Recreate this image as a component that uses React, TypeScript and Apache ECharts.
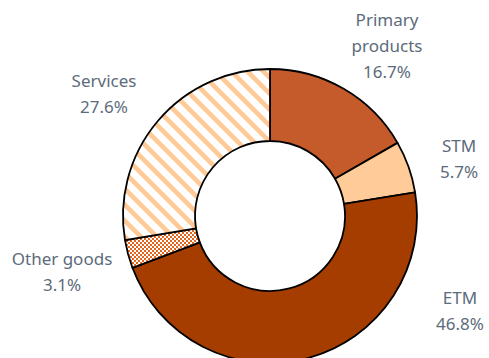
import React, { useEffect, useRef } from "react";
import * as echarts from "echarts";

const categories = ["Primary\nproducts", "STM", "ETM", "Other goods", "Services"];
const shares = [16.7, 5.7, 46.8, 3.1, 27.6];

const labelPos: [number, number][] = [
  [387, 45],
  [459, 158],
  [460, 310],
  [62, 271],
  [104, 93],
];

function stripePattern(): string {
  const s = 16;
  const c = document.createElement("canvas");
  c.width = s;
  c.height = s;
  const ctx = c.getContext("2d")!;
  ctx.fillStyle = "#ffffff";
  ctx.fillRect(0, 0, s, s);
  ctx.strokeStyle = "#FFC996";
  ctx.lineWidth = 4.5;
  for (let k = -1; k <= 1; k++) {
    ctx.beginPath();
    ctx.moveTo(k * s - 2, -2);
    ctx.lineTo(k * s + s + 2, s + 2);
    ctx.stroke();
  }
  return c.toDataURL();
}

function checkerPattern(): string {
  const s = 4;
  const c = document.createElement("canvas");
  c.width = s;
  c.height = s;
  const ctx = c.getContext("2d")!;
  ctx.fillStyle = "#E3661E";
  ctx.fillRect(0, 0, s, s);
  ctx.fillStyle = "#ffffff";
  ctx.fillRect(0, 0, 2, 2);
  ctx.fillRect(2, 2, 2, 2);
  return c.toDataURL();
}

export default function App() {
  const ref = useRef<HTMLDivElement>(null);
  useEffect(() => {
    if (!ref.current) return;
    const chart = echarts.init(ref.current, undefined, { renderer: "svg" });
    const colors: any[] = [
      "#C55A2B",
      "#FFCC99",
      "#A63D00",
      { image: checkerPattern(), repeat: "repeat" },
      { image: stripePattern(), repeat: "repeat" },
    ];
    chart.setOption({
      animation: false,
      backgroundColor: "#ffffff",
      series: [
        {
          type: "pie",
          center: [270, 216],
          radius: [75, 147],
          startAngle: 90,
          clockwise: true,
          avoidLabelOverlap: false,
          itemStyle: { borderColor: "#000000", borderWidth: 1.8 },
          label: {
            show: true,
            formatter: (p: any) => `${p.name}\n${p.value.toFixed(1)}%`,
            fontFamily: "Noto Sans",
            fontSize: 17,
            lineHeight: 26,
            color: "#5D6B7B",
            align: "center",
          },
          labelLine: { show: false },
          labelLayout: (p: any) => ({
            x: labelPos[p.dataIndex][0],
            y: labelPos[p.dataIndex][1],
            align: "center",
            verticalAlign: "middle",
          }),
          emphasis: { disabled: true },
          data: categories.map((name, i) => ({
            name,
            value: shares[i],
            itemStyle: { color: colors[i] },
          })),
        },
      ],
    });
    return () => chart.dispose();
  }, []);
  return (
    <div
      ref={ref}
      style={{ position: "fixed", left: 0, top: 0, width: 489, height: 358 }}
    />
  );
}
